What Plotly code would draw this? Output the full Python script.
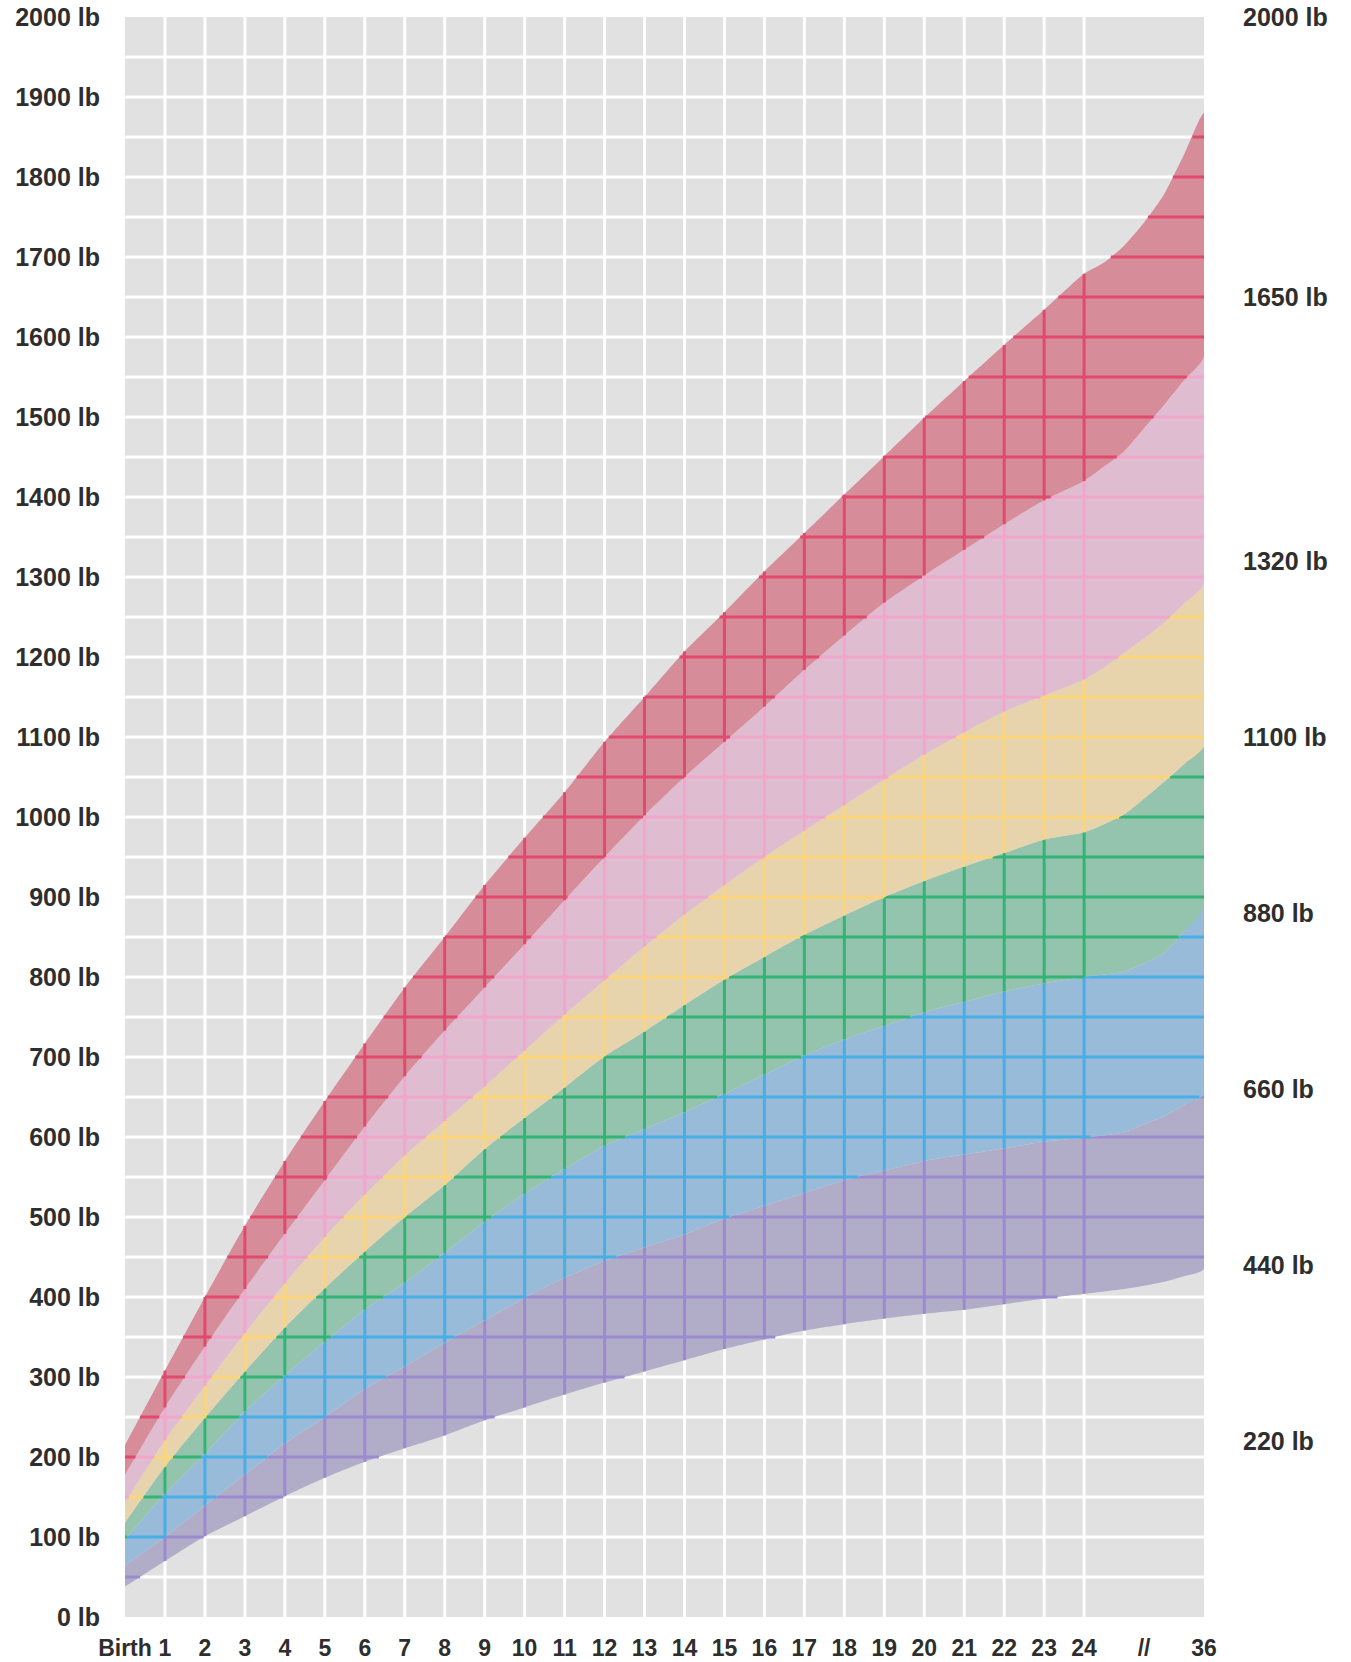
import numpy as np
import plotly.graph_objects as go

# ---------------- data ----------------
months = [0, 1, 2, 3, 4, 5, 6, 7, 8, 9, 10, 11, 12, 13, 14, 15, 16, 17, 18,
          19, 20, 21, 22, 23, 24, 26, 28, 30, 32, 34, 36]

# band boundaries (lb), bottom to top
bottom_edge = [38, 70, 101, 126, 151, 174, 194, 211, 227, 246, 262, 278, 293, 307, 321,
               335, 347, 358, 366, 373, 379, 384, 391, 398, 404, 407, 410, 414, 419, 426, 435]
purple_top = [65, 100, 139, 178, 217, 250, 285, 313, 343, 371, 399, 424, 445, 462, 478,
              498, 514, 530, 546, 558, 570, 578, 586, 594, 599, 602, 606, 616, 626, 640, 653]
blue_top = [97, 154, 204, 257, 302, 344, 384, 418, 455, 494, 529, 560, 589, 610, 631,
            654, 678, 702, 722, 739, 756, 769, 782, 792, 800, 803, 807, 817, 830, 857, 887]
green_top = [118, 188, 249, 307, 362, 411, 457, 500, 540, 585, 624, 662, 701, 732, 765,
             797, 825, 853, 877, 900, 920, 938, 955, 972, 981, 991, 1003, 1023, 1044, 1066, 1088]
yellow_top = [143, 221, 289, 355, 417, 475, 528, 577, 620, 663, 708, 753, 796, 838, 878,
              915, 950, 983, 1015, 1047, 1078, 1106, 1132, 1152, 1172, 1187, 1205, 1223, 1243, 1267, 1291]
pink_top = [178, 262, 338, 410, 479, 546, 613, 676, 733, 787, 841, 896, 950, 1002, 1050,
            1094, 1138, 1184, 1227, 1268, 1302, 1334, 1366, 1396, 1420, 1438, 1457, 1486, 1515, 1546, 1575]
red_top = [215, 308, 400, 489, 570, 645, 717, 787, 850, 915, 974, 1031, 1094, 1150, 1207,
           1256, 1307, 1355, 1403, 1451, 1499, 1545, 1590, 1634, 1679, 1693, 1714, 1743, 1778, 1828, 1880]

x_tick_labels = ["Birth"] + [str(m) for m in range(1, 25)] + ["//", "36"]
left_ticks = list(range(0, 2001, 100))
right_ticks = [220, 440, 660, 880, 1100, 1320, 1650, 2000]

# ---------------- styling ----------------
band_fill = ["#b1adc9", "#97bbd8", "#95c4ae", "#e8d4ac", "#dfbcd0", "#d68c99"]
band_line = ["#9c8ad0", "#4aaee6", "#33b476", "#fcd57a", "#f2a6cc", "#e04a6e"]
BG = "#e1e1e1"
GRID_W = 3


def pos(m):
    """Axis position: months up to 24 linear, 24->36 compressed to 3 units."""
    return m if m <= 24 else 24 + (m - 24) / 4.0


P = np.array([pos(m) for m in months], dtype=float)
XMAX = pos(36)
x_tickvals = list(range(0, 25)) + [25.5, XMAX]

h_levels = np.arange(50, 2000, 50)
v_months = np.arange(1, 25)

fig = go.Figure()

# white background grid
gx, gy = [], []
for y in h_levels:
    gx += [0, XMAX, None]
    gy += [y, y, None]
for m in v_months:
    gx += [pos(m), pos(m), None]
    gy += [0, 2000, None]
fig.add_trace(go.Scatter(x=gx, y=gy, mode="lines",
                         line=dict(color="white", width=GRID_W),
                         hoverinfo="skip", showlegend=False))

edges = [bottom_edge, purple_top, blue_top, green_top, yellow_top, pink_top, red_top]
for i in range(6):
    L = np.array(edges[i], dtype=float)
    U = np.array(edges[i + 1], dtype=float)
    fig.add_trace(go.Scatter(
        x=list(P) + list(P[::-1]), y=list(U) + list(L[::-1]),
        fill="toself", fillcolor=band_fill[i], mode="lines",
        line=dict(width=0, color=band_fill[i], shape="spline", smoothing=0.6),
        hoverinfo="skip", showlegend=False))
    # coloured grid inside the band
    cx, cy = [], []
    for y in h_levels:
        if y < L[0] or y > U[-1]:
            continue
        xs = float(np.interp(y, U, P)) if y >= U[0] else 0.0
        xe = float(np.interp(y, L, P)) if y <= L[-1] else XMAX
        if xe > xs:
            cx += [xs, xe, None]
            cy += [y, y, None]
    for m in v_months:
        k = months.index(int(m))
        cx += [pos(m), pos(m), None]
        cy += [L[k], U[k], None]
    fig.add_trace(go.Scatter(x=cx, y=cy, mode="lines",
                             line=dict(color=band_line[i], width=GRID_W),
                             hoverinfo="skip", showlegend=False))

# dummy trace so the right axis is drawn
fig.add_trace(go.Scatter(x=[0], y=[0], yaxis="y2", mode="markers",
                         marker=dict(opacity=0), hoverinfo="skip", showlegend=False))

font_family = "Liberation Sans, Arial, Helvetica, sans-serif"
ytickfont = dict(family=font_family, size=25, color="#2e2e2e", weight="bold")
xtickfont = dict(family=font_family, size=23, color="#2e2e2e", weight="bold")

fig.update_layout(
    width=1351, height=1662,
    margin=dict(l=125, r=147, t=17, b=45, autoexpand=False),
    paper_bgcolor="white", plot_bgcolor=BG,
    showlegend=False,
    xaxis=dict(range=[0, XMAX], showgrid=False, zeroline=False, showline=False,
               tickmode="array", tickvals=x_tickvals, ticktext=x_tick_labels,
               ticks="", tickfont=xtickfont, ticklabelstandoff=15, fixedrange=True,
               automargin=False),
    yaxis=dict(range=[0, 2000], showgrid=False, zeroline=False, showline=False,
               tickmode="array", tickvals=left_ticks,
               ticktext=[f"{v} lb" for v in left_ticks],
               ticks="", tickfont=ytickfont, ticklabelstandoff=24, fixedrange=True,
               automargin=False),
    yaxis2=dict(range=[0, 2000], overlaying="y", side="right", showgrid=False,
                zeroline=False, showline=False, tickmode="array",
                tickvals=right_ticks, ticktext=[f"{v} lb" for v in right_ticks],
                ticks="", tickfont=ytickfont, ticklabelstandoff=38, fixedrange=True,
                automargin=False),
)

fig.write_html(
    "out.html",
    config={"displayModeBar": False},
    post_script="document.body.style.margin='0';document.body.style.overflow='hidden';",
)
